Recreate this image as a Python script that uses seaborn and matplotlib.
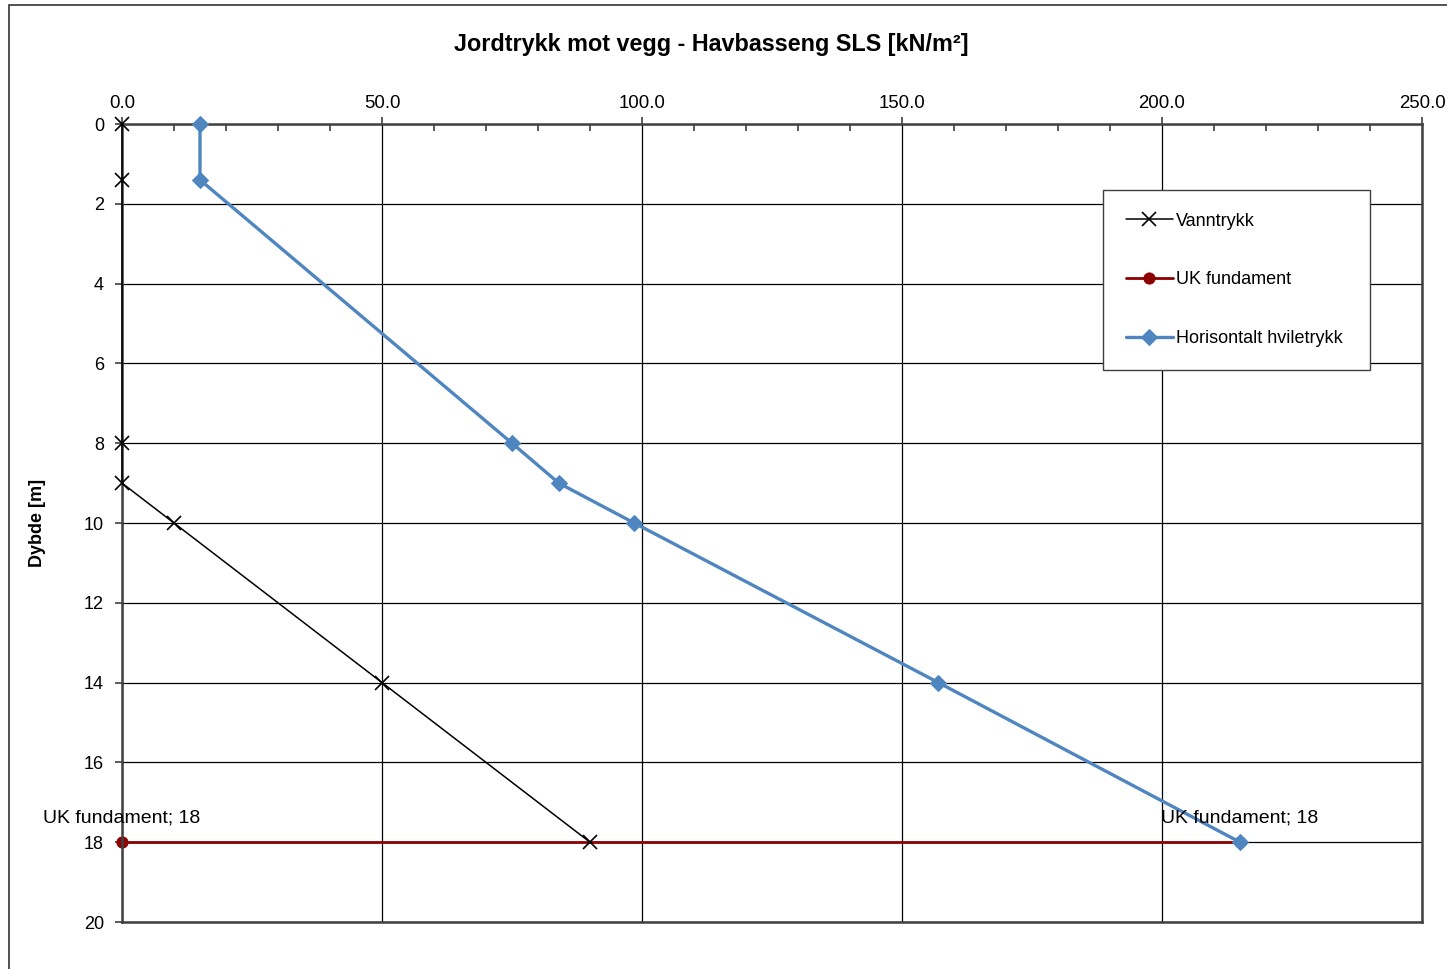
import matplotlib
matplotlib.use("Agg")
import matplotlib.pyplot as plt
import matplotlib.patches as mpatches
from matplotlib.ticker import MultipleLocator, FormatStrFormatter
import seaborn as sns
import pandas as pd

# Pressure profiles along the wall: pressure [kN/m2] against depth [m]
vann_x = [0, 0, 0, 0, 10, 50, 90]
vann_y = [0, 1.4, 8, 9, 10, 14, 18]

uk_x = [0, 215]
uk_y = [18, 18]

hvile_x = [15, 15, 75, 84, 98.5, 157, 215]
hvile_y = [0, 1.4, 8, 9, 10, 14, 18]

title = "Jordtrykk mot vegg - Havbasseng SLS [kN/m²]"
ylabel = "Dybde [m]"
uk_label = "UK fundament; 18"

sns.set_style("white")
plt.rcParams["font.family"] = ["Liberation Sans", "DejaVu Sans"]
plt.rcParams["text.color"] = "black"
plt.rcParams["axes.labelcolor"] = "black"
plt.rcParams["xtick.color"] = "black"
plt.rcParams["ytick.color"] = "black"

fig = plt.figure(figsize=(14.47, 9.69), dpi=100)
W, H = 1447, 969
ax = fig.add_axes([122 / W, (H - 922) / H, 1300 / W, 798 / H])

vann = pd.DataFrame({"x": vann_x, "y": vann_y})
uk = pd.DataFrame({"x": uk_x, "y": uk_y})
hvile = pd.DataFrame({"x": hvile_x, "y": hvile_y})

sns.lineplot(data=vann, x="x", y="y", sort=False, estimator=None, ax=ax,
             color="black", lw=1.1, marker="x", markersize=10,
             markeredgewidth=1.2, markeredgecolor="black",
             label="Vanntrykk", zorder=3, clip_on=False)
sns.lineplot(data=uk, x="x", y="y", sort=False, estimator=None, ax=ax,
             color="#8B0000", lw=2, marker="o", markersize=8,
             markeredgecolor="#8B0000", label="UK fundament", zorder=2,
             clip_on=False)
sns.lineplot(data=hvile, x="x", y="y", sort=False, estimator=None, ax=ax,
             color="#4F86C0", lw=2.4, marker="D", markersize=8.5,
             markeredgecolor="#4F86C0", label="Horisontalt hviletrykk",
             zorder=4, clip_on=False)

# Data labels on the foundation level
for px, py in zip(uk_x, uk_y):
    ax.annotate(uk_label, (px, py), xytext=(0, 17.5), textcoords="offset points",
                ha="center", va="center", fontsize=14, color="black", zorder=6)

ax.set_xlim(0, 250)
ax.set_ylim(20, 0)
ax.xaxis.tick_top()
ax.xaxis.set_label_position("top")
ax.xaxis.set_major_locator(MultipleLocator(50))
ax.xaxis.set_minor_locator(MultipleLocator(10))
ax.xaxis.set_major_formatter(FormatStrFormatter("%.1f"))
ax.yaxis.set_major_locator(MultipleLocator(2))
ax.tick_params(axis="x", which="major", direction="out", length=5, width=1.2,
               color="#404040", labelsize=13.4, pad=4, top=True, bottom=False)
ax.tick_params(axis="x", which="minor", direction="in", length=5, width=1.2,
               color="#404040", top=True, bottom=False)
ax.tick_params(axis="y", which="major", direction="out", length=5, width=1.2,
               color="#404040", labelsize=13, pad=8, left=True)
ax.set_xlabel("")
ax.set_ylabel(ylabel, fontsize=13, fontweight="bold", labelpad=27)

ax.grid(True, which="major", color="black", lw=0.9)
ax.set_axisbelow(True)
for sp in ax.spines.values():
    sp.set_visible(True)
    sp.set_color("#404040")
    sp.set_linewidth(1.8)

# Legend box spanning a fixed region, entries left aligned
x0 = (1103 - 122) / 1300
x1 = (1370 - 122) / 1300
ytop = 1 - (190 - 124) / 798
ybot = 1 - (367 - 124) / 798
leg = ax.legend(loc="upper left", bbox_to_anchor=(x0, ybot, x1 - x0, ytop - ybot),
                mode="expand", frameon=True, fancybox=False, fontsize=13,
                labelspacing=2.32, borderpad=1.25, handlelength=2.6,
                handletextpad=0.2, borderaxespad=0)
leg.get_frame().set_edgecolor("#404040")
leg.get_frame().set_linewidth(1)
leg.get_frame().set_alpha(1)

fig.text(711 / W, 1 - 44 / H, title, ha="center", va="center",
         fontsize=16.8, fontweight="bold")

# Chart area border
fig.patches.append(mpatches.Rectangle((9 / W, -0.1), 2, 1 - 5 / H + 0.1,
                                      transform=fig.transFigure, fill=False,
                                      edgecolor="#333333", lw=1.2))

fig.savefig("out.png", dpi=100, facecolor="white")
